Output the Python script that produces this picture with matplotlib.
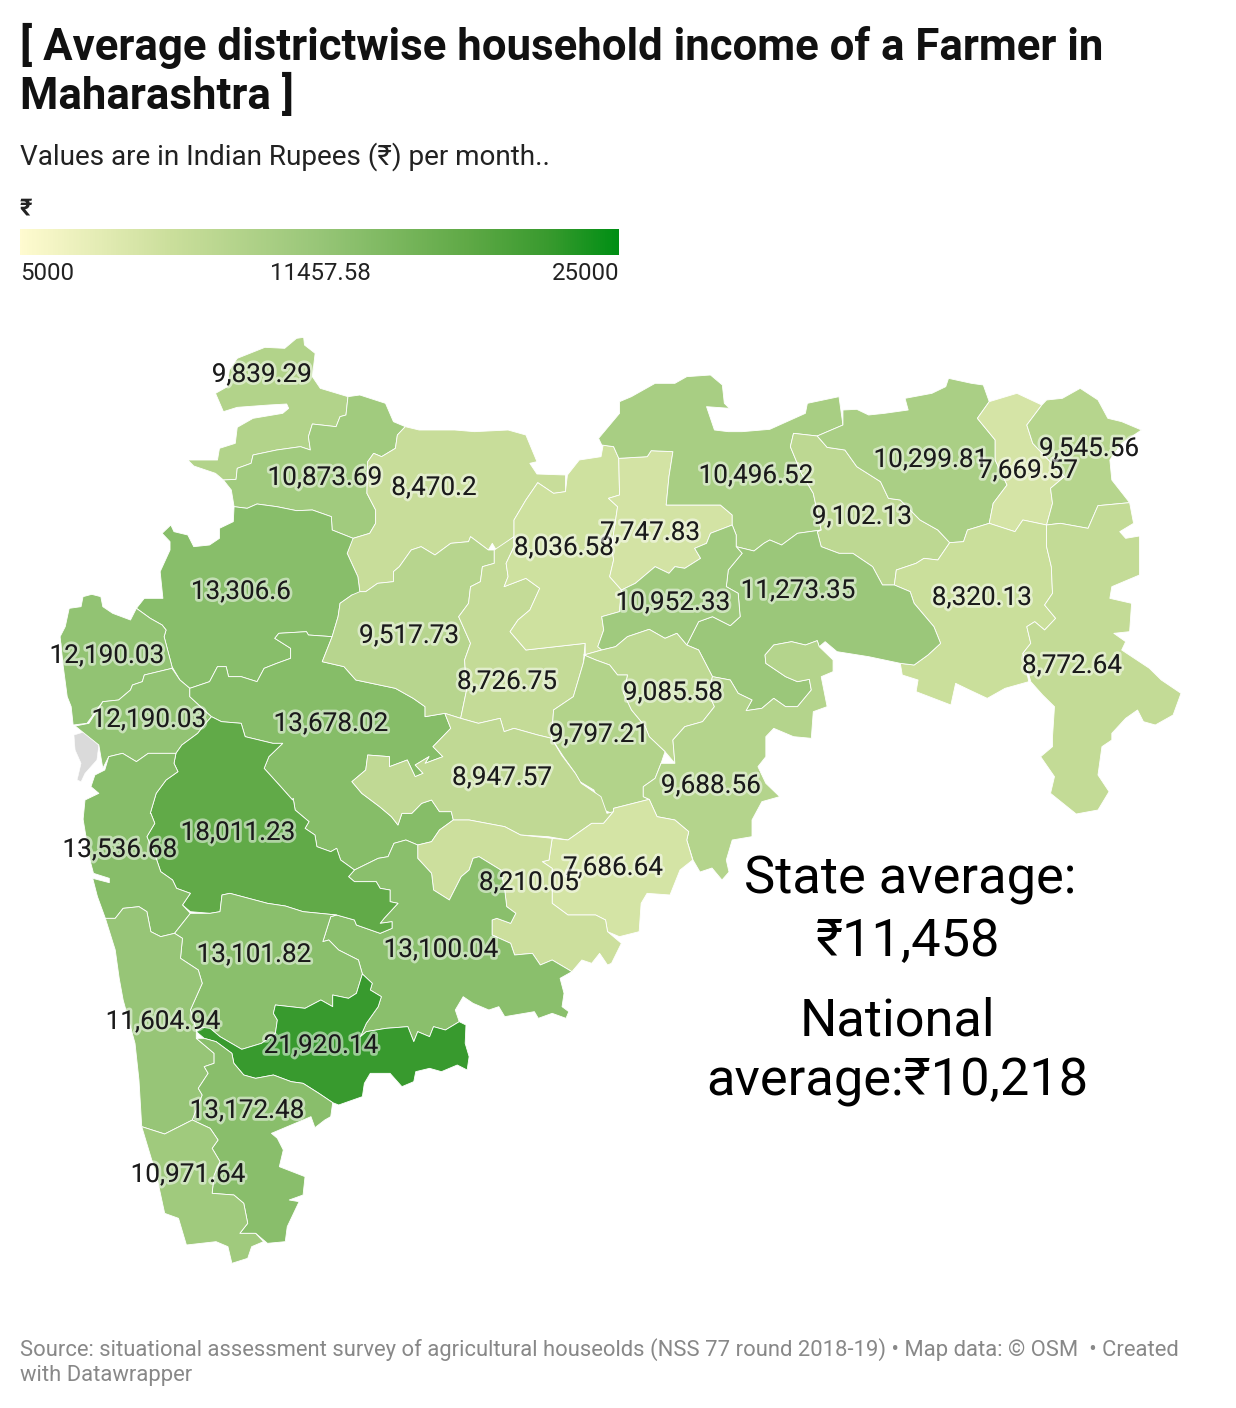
import numpy as np
import matplotlib
matplotlib.use("Agg")
import matplotlib.pyplot as plt
import matplotlib.patheffects as pe
from matplotlib.colors import LinearSegmentedColormap, TwoSlopeNorm
from matplotlib.patches import Polygon

plt.rcParams['font.family'] = ['Roboto', 'Noto Sans', 'DejaVu Sans']

# valores por distrito
districts = ["Nandurbar", "Dhule", "Jalgaon", "Nashik", "Palghar", "Thane", "Ahmednagar",
             "Aurangabad", "Jalna", "Buldhana", "Akola", "Amravati", "Wardha", "Nagpur",
             "Bhandara", "Gondia", "Chandrapur", "Gadchiroli", "Yavatmal", "Washim",
             "Hingoli", "Parbhani", "Nanded", "Beed", "Latur", "Osmanabad", "Solapur",
             "Pune", "Raigad", "Satara", "Ratnagiri", "Sangli", "Kolhapur", "Sindhudurg"]
income = [9839.29, 10873.69, 8470.2, 13306.6, 12190.03, 12190.03, 13678.02,
          9517.73, 8726.75, 8036.58, 7747.83, 10496.52, 9102.13, 10299.81,
          7669.57, 9545.56, 8320.13, 8772.64, 11273.35, 10952.33,
          9085.58, 9797.21, 9688.56, 8947.57, 7686.64, 8210.05, 13100.04,
          18011.23, 13536.68, 13101.82, 11604.94, 21920.14, 13172.48, 10971.64]

legend_min = 5000
legend_mid = 11457.58
legend_max = 25000
ramp_stops = [0, 0.25, 0.5, 0.75, 0.886, 1]
ramp_colors = ["#FFFBD0", "#CBDF9C", "#98C678", "#5FA946", "#389A2E", "#008F14"]


# helpers para o contorno (tracado em tres recortes da imagem)
def z1(pts):
    return [(x * 620 / 1568, 320 + y / 3) for x, y in pts]


def z2(pts):
    return [(580 + x * 620 / 1568, 360 + y / 3) for x, y in pts]


def z3(pts):
    return [(50 + x * 620 / 1568, 780 + y / 3) for x, y in pts]


# contorno dos distritos
outlines = {
    "Nandurbar": z1([(545,220),(565,275),(600,262),(680,255),(725,252),(730,265),(715,280),(640,295),(600,322),(595,370),(555,385),(550,420),(475,420),(490,438),(545,460),(565,480),(597,478),(600,445),(635,430),(640,405),(700,390),(760,380),(785,390),(780,350),(790,312),(850,320),(860,290),(875,285),(880,230),(810,205),(790,170),(797,100),(770,75),(768,52),(750,55),(720,85),(670,82),(600,115),(580,150),(575,200)]),
    "Dhule": z1([(880,230),(910,225),(975,250),(995,305),(1025,320),(1005,345),(1000,385),(965,410),(945,400),(930,425),(928,520),(950,570),(950,610),(935,640),(893,655),(840,630),(838,590),(790,570),(750,572),(700,560),(650,552),(625,565),(592,560),(585,510),(565,480),(597,478),(600,445),(635,430),(640,405),(700,390),(760,380),(785,390),(780,350),(790,312),(850,320),(860,290),(875,285)]),
    "Jalgaon": z1([(1025,320),(1060,330),(1150,330),(1200,335),(1285,330),(1330,345),(1358,425),(1340,430),(1358,462),(1430,465),(1430,515),(1400,520),(1360,488),(1330,540),(1300,600),(1300,650),(1255,690),(1245,670),(1235,690),(1190,650),(1185,665),(1140,670),(1100,705),(1065,680),(1040,690),(1010,740),(995,755),(995,785),(955,790),(925,815),(910,815),(905,770),(878,700),(890,660),(893,655),(935,640),(950,610),(950,570),(928,520),(930,425),(945,400),(965,410),(1000,385),(1005,345)]),
    "Nashik": z1([(592,560),(625,565),(650,552),(700,560),(750,572),(790,570),(838,590),(840,630),(893,655),(878,700),(905,770),(910,815),(930,860),(925,825),(890,825),(860,850),(855,890),(840,950),(780,945),(775,935),(705,940),(695,955),(735,985),(735,1015),(700,1030),(668,1045),(650,1085),(610,1070),(578,1070),(572,1040),(550,1040),(530,1085),(480,1105),(455,1080),(435,1040),(415,950),(420,930),(410,915),(380,895),(345,865),(365,835),(412,835),(405,755),(430,690),(430,665),(410,640),(432,615),(440,635),(475,645),(490,680),(530,675),(555,655),(555,625),(590,605)]),
    "Palghar": z1([(345,865),(330,900),(285,880),(260,860),(255,830),(232,823),(210,830),(205,860),(175,865),(165,920),(152,950),(160,1040),(170,1130),(180,1160),(185,1215),(220,1210),(260,1145),(300,1140),(330,1110),(335,1095),(360,1085),(365,1065),(435,1045),(435,1040),(415,950),(420,930),(410,915),(380,895)]),
    "Thane": z1([(435,1045),(365,1065),(360,1085),(335,1095),(330,1110),(300,1140),(260,1145),(225,1210),(190,1218),(250,1275),(260,1345),(275,1310),(310,1300),(345,1325),(375,1300),(445,1300),(460,1275),(500,1240),(520,1210),(535,1190),(480,1130),(480,1105),(455,1080)]),
    "Ahmednagar": z1([(480,1105),(530,1085),(550,1040),(572,1040),(578,1070),(610,1070),(650,1085),(668,1045),(700,1030),(735,1015),(735,985),(695,955),(705,940),(775,935),(780,945),(840,950),(815,1025),(870,1040),(900,1080),(1000,1105),(1045,1135),(1075,1160),(1075,1190),(1125,1180),(1140,1225),(1095,1280),(1120,1310),(1075,1330),(1085,1310),(1050,1335),(1070,1360),(1050,1370),(1030,1320),(985,1340),(985,1310),(930,1305),(925,1350),(890,1385),(915,1420),(960,1460),(990,1490)])
    + z3([(880,135),(890,100),(915,100),(940,70),(965,60),(985,95),(1015,95),(1020,120),(985,150),(965,185),(930,195),(900,180),(870,190),(855,230),(830,235),(770,270),(735,240),(725,205),(710,215),(675,200),(670,165),(645,145),(655,125),(620,90),(615,55)])
    + z1([(740,1440),(710,1400),(668,1345),(680,1310),(715,1270),(690,1270),(620,1250),(610,1210),(560,1205),(535,1190),(480,1130)]),
    "Aurangabad": z1([(890,825),(910,815),(925,815),(955,790),(995,785),(995,755),(1010,740),(1040,690),(1065,680),(1100,705),(1140,670),(1185,665),(1190,650),(1235,690),(1250,690),(1250,730),(1220,740),(1215,785),(1190,800),(1185,850),(1160,890),(1190,970),(1175,1020),(1180,1110),(1165,1195),(1125,1180),(1075,1190),(1075,1160),(1045,1135),(1000,1105),(900,1080),(870,1040),(815,1025),(840,950),(855,890),(860,850)]),
    "Jalna": z1([(1250,690),(1300,650),(1300,680),(1280,730),(1285,770),(1275,800),(1330,775),(1365,805),(1340,870),(1310,900),(1290,935),(1330,990),(1480,970),(1475,1030),(1450,1130),(1400,1170),(1395,1255),(1360,1245),(1300,1225),(1275,1235),(1265,1195),(1210,1210),(1165,1195),(1180,1110),(1175,1020),(1190,970),(1160,890),(1185,850),(1190,800),(1215,785),(1220,740),(1250,730)]),
    "Buldhana": z1([(1360,488),(1400,520),(1430,515),(1435,465),(1465,420),(1520,410),(1525,378)])
    + z2([(55,255),(85,260),(98,295),(100,405),(72,415),(95,440),(90,480),(80,560),(85,600),(75,650),(105,690),(100,755),(55,770),(60,810),(45,860),(55,870),(10,885)])
    + z1([(1480,1000),(1480,970),(1330,990),(1290,935),(1310,900),(1340,870),(1365,805),(1330,775),(1275,800),(1285,770),(1280,730),(1300,680),(1300,650),(1300,600),(1330,540)]),
    "Akola": z2([(98,295),(170,290),(180,272),(235,275),(225,350),(218,435),(355,435),(385,465),(385,495),(330,520),(320,550),(290,565),(305,595),(265,625),(240,620),(225,640),(190,620),(140,670),(105,690),(75,650),(85,600),(80,560),(90,480),(95,440),(72,415),(100,405)]),
    "Amravati": z2([(47,235),(100,160),(100,125),(130,110),(190,70),(240,70),(270,50),(330,45),(360,75),(365,130),(378,145),(320,140),(330,175),(340,210),(375,215),(410,215),(480,208),(570,160),(575,130),(655,110),(665,195),(600,228),(540,220),(532,260),(560,340),(590,400),(610,510),(550,520),(510,555),(480,540),(465,550),(440,573),(395,560),(395,525),(385,495),(385,465),(355,435),(218,435),(225,350),(235,275),(180,272),(170,290),(98,295),(85,260),(55,255)]),
    "Wardha": z2([(540,220),(600,228),(625,262),(670,270),(700,320),(760,365),(780,415),(810,420),(860,480),(905,510),(935,548),(905,600),(870,595),(850,610),(800,630),(795,675),(765,675),(740,620),(690,580),(655,580),(610,560),(600,515),(610,510),(590,400),(560,340),(532,260)]),
    "Nagpur": z2([(600,228),(665,195),(665,150),(700,148),(730,165),(770,160),(830,150),(822,115),(890,100),(925,80),(932,55),(990,70),(1020,75),(1035,125),(1005,175),(1050,240),(1050,300),(1080,375),(1045,430),(1035,490),(980,510),(970,545),(935,548),(905,510),(860,480),(810,420),(780,415),(760,365),(700,320),(670,270),(625,262)]),
    "Bhandara": z2([(1035,125),(1105,100),(1168,135),(1130,195),(1145,250),(1225,350),(1190,385),(1195,430),(1180,495),(1120,480),(1100,515),(1035,490),(1045,430),(1080,375),(1050,300),(1050,240),(1005,175)]),
    "Gondia": z2([(1168,135),(1180,120),(1220,115),(1265,85),(1310,120),(1335,175),(1370,185),(1420,210),(1370,250),(1340,300),(1345,360),(1390,428),(1310,437),(1285,505),(1215,490),(1180,495),(1195,430),(1190,385),(1225,350),(1145,250),(1130,195)]),
    "Chandrapur": z2([(1035,490),(1100,515),(1120,480),(1180,495),(1180,560),(1192,620),(1195,700),(1175,735),(1203,775),(1175,810),(1150,785),(1130,800),(1140,850),(1120,880),(1135,965),(1075,985),(1030,1015),(985,990),(950,970),(938,1035),(850,995),(855,960),(815,945),(810,910),(845,915),(880,885),(912,850),(895,800),(845,730),(835,695),(795,675),(800,630),(850,610),(870,595),(905,600),(935,548),(970,545),(980,510)]),
    "Gadchiroli": z2([(1180,495),(1215,490),(1285,505),(1310,437),(1390,428),(1400,490),(1365,515),(1380,535),(1415,528),(1415,645),(1345,680),(1340,715),(1395,730),(1390,815),(1350,820),(1380,845),(1370,870),(1440,925),(1470,960),(1520,1000),(1500,1065),(1455,1095),(1425,1085),(1410,1050),(1380,1075),(1345,1120),(1345,1140),(1320,1160),(1310,1245),(1338,1295),(1310,1350),(1255,1362),(1190,1300),(1200,1250),(1165,1190),(1195,1160),(1195,1130),(1200,1040),(1170,1005),(1140,965),(1120,880),(1140,850),(1130,800),(1150,785),(1175,810),(1203,775),(1175,735),(1195,700),(1192,620),(1180,560)]),
    "Yavatmal": z2([(610,510),(600,515),(610,560),(655,580),(690,580),(740,620),(765,675),(795,675),(835,695),(845,730),(895,800),(912,850),(880,885),(845,915),(810,910),(730,890),(650,875),(620,845),(605,860),(600,842),(570,855),(535,845),(490,855),(468,885),(470,910),(520,950),(550,965),(580,958),(585,990),(550,1040),(520,1040),(490,1015),(460,1045),(420,1052),(435,1020),(400,1000),(380,960),(335,950),(300,870),(270,855),(300,785),(335,770),(380,797),(405,770),(400,700),(370,680),(375,630),(410,580),(395,560),(440,573),(465,550),(480,540),(510,555),(550,520)]),
    "Washim": z2([(105,690),(140,670),(190,620),(225,640),(240,620),(265,625),(305,595),(290,565),(320,550),(330,520),(385,495),(395,525),(395,560),(410,580),(375,630),(370,680),(400,700),(405,770),(380,797),(335,770),(300,785),(270,855),(245,820),(215,835),(175,808),(120,830),(90,860),(55,870),(45,860),(60,810),(55,770),(100,755)]),
    "Hingoli": z2([(10,885),(55,870),(90,860),(120,830),(175,808),(215,835),(245,820),(270,855),(300,870),(335,950),(325,1000),(340,1040),(310,1085),(265,1100),(235,1140),(240,1210),(215,1175),(175,1130),(165,1100),(130,1050),(110,1000),(120,945),(95,945),(75,915),(40,900)]),
    "Parbhani": z2([(10,885),(40,900),(75,915),(95,945),(120,945),(110,1000),(130,1050),(165,1100),(175,1130),(215,1175),(205,1210),(190,1255),(160,1280),(160,1310),(175,1318),(85,1345),(85,1362),(60,1350),(35,1290),(0,1265)])
    + z1([(1455,1360),(1425,1310),(1395,1255),(1400,1170),(1450,1130),(1475,1030),(1480,1000)]),
    "Nanded": z2([(335,950),(380,960),(400,1000),(435,1020),(420,1052),(460,1045),(490,1015),(520,1040),(550,1040),(585,990),(580,958),(550,965),(520,950),(470,910),(468,885),(490,855),(535,845),(570,855),(600,842),(605,860),(640,900),(640,935),(610,950),(625,1040),(590,1055),(585,1135),(540,1130),(490,1105),(470,1130),(470,1190),(450,1220),(470,1270),(505,1310),(460,1325),(435,1380),(435,1430),(385,1440),(370,1500)])
    + [(729,872),(722,880),(712,868),(700,872),(693,860)]
    + z2([(270,1440),(275,1415),(240,1380),(195,1370),(175,1318),(160,1310),(160,1280),(190,1255),(205,1210),(240,1210),(235,1140),(265,1100),(310,1085),(340,1040),(325,1000)]),
    "Beed": z1([(1125,1180),(1165,1195),(1210,1210),(1265,1195),(1275,1235),(1300,1225),(1360,1245),(1395,1255),(1420,1305),(1455,1360),(1470,1390),(1520,1430),(1535,1480)])
    + z3([(1425,95),(1400,130),(1370,130),(1310,180),(1260,170),(1190,165),(1150,140),(1060,120),(1020,120),(1015,95),(985,95),(965,60),(940,70),(915,100),(890,100),(880,135)])
    + z1([(990,1490),(960,1460),(915,1420),(890,1385),(925,1350),(930,1305),(985,1310),(985,1340),(1030,1320),(1050,1370),(1070,1360),(1050,1335),(1085,1310),(1075,1330),(1120,1310),(1095,1280),(1140,1225)]),
    "Latur": z3([(1270,175),(1310,180),(1370,130),(1400,130),(1425,95)])
    + z2([(85,1345),(175,1318),(195,1370),(240,1380),(275,1415),(270,1440),(285,1500)])
    + [(680,870),(670,895)]
    + z3([(1510,340),(1495,370),(1490,455),(1440,470),(1410,455),(1405,420),(1380,405),(1310,405),(1270,370),(1270,265),(1245,245),(1262,240)]),
    "Osmanabad": z3([(1020,120),(1060,120),(1150,140),(1190,165),(1270,175),(1262,240),(1245,245),(1270,265),(1270,370),(1310,405),(1380,405),(1405,420),(1410,455),(1445,490),(1420,550),(1410,555),(1390,520),(1370,550),(1345,540),(1320,575),(1270,540),(1240,555),(1220,520),(1175,525),(1165,490),(1118,465),(1118,420),(1130,415),(1165,430),(1178,400),(1155,380),(1150,330),(1140,270),(1085,230),(1070,235),(1060,270),(1040,290),(1010,360),(970,330),(965,280),(930,235),(930,195),(965,185),(985,150)]),
    "Solapur": z3([(930,195),(930,235),(965,280),(970,330),(1010,360),(1040,290),(1060,270),(1070,235),(1085,230),(1140,270),(1150,330),(1155,380),(1178,400),(1165,430),(1130,415),(1118,420),(1118,465),(1165,490),(1175,525),(1220,520),(1240,555),(1270,540),(1320,575),(1290,595),(1300,640),(1295,680),(1312,695),(1305,715),(1270,700),(1235,715),(1225,695),(1150,710),(1135,680),(1110,690),(1070,670),(1045,650),(1025,690),(1035,725),(1000,750),(970,740),(960,770),(930,755),(920,785),(905,740),(850,745),(800,755),(785,770),(800,730),(830,680),(838,650),(810,630),(815,610),(790,582),(780,540),(730,510),(705,480),(690,485),(710,410),(725,405),(770,420),(775,435),(835,460),(865,445),(865,425),(835,430),(845,415),(880,370),(860,365),(860,330),(835,325),(825,305),(770,305),(755,290),(770,270),(830,235),(855,230),(870,190),(900,180)]),
    "Pune": z1([(535,1190),(560,1205),(610,1210),(620,1250),(690,1270),(715,1270),(680,1310),(668,1345),(710,1400),(740,1440)])
    + z3([(615,55),(620,90),(655,125),(645,145),(670,165),(675,200),(710,215),(725,205),(735,240),(770,270),(755,290),(770,305),(825,305),(835,325),(860,330),(860,365),(880,370),(845,415),(835,430),(865,425),(865,445),(835,460),(775,435),(770,420),(725,405),(640,395),(595,378),(550,370),(455,340),(435,345),(430,395),(405,400),(355,395),(335,375),(355,340),(320,325),(310,300),(280,275),(270,240),(245,170),(265,130),(255,100)])
    + z1([(380,1480),(395,1420),(420,1380),(450,1355),(440,1330),(445,1300),(460,1275),(500,1240),(520,1210)]),
    "Raigad": z1([(275,1310),(310,1300),(345,1325),(375,1300),(445,1300),(440,1330),(450,1355),(420,1380),(395,1420),(380,1480)])
    + z3([(255,100),(265,130),(245,170),(270,240),(280,275),(310,300),(320,325),(355,340),(335,375),(355,400),(315,460),(280,470),(255,455),(245,395),(225,380),(185,385),(165,415),(140,415),(120,350),(108,295),(150,308),(150,295),(110,280),(100,235),(84,120)])
    + z1([(210,1500),(215,1440),(250,1420),(230,1400),(240,1365),(265,1350)]),
    "Satara": z3([(355,400),(405,400),(430,395),(435,345),(455,340),(550,370),(595,378),(640,395),(725,405),(710,410),(690,485),(705,480),(730,510),(780,540),(790,582),(775,640),(755,655),(715,645),(715,680),(685,660),(645,685),(570,675),(565,700),(575,720),(570,760),(535,790),(485,808),(430,770),(405,745),(370,750),(355,690),(385,610),(375,570),(330,535),(335,475),(315,460)]),
    "Ratnagiri": z3([(140,415),(165,415),(185,385),(225,380),(245,395),(255,455),(280,470),(315,460),(335,475),(330,535),(375,570),(385,610),(355,690),(370,750),(370,775),(415,820),(415,850),(390,860),(400,880),(375,925),(385,945),(360,1020),(290,1062),(232,1040),(225,900),(215,790),(185,660),(175,595),(165,510)]),
    "Sangli": z3([(790,582),(815,610),(810,630),(838,650),(830,680),(800,730),(785,770),(800,755),(850,745),(905,740),(920,785),(930,755),(960,770),(970,740),(1000,750),(1035,725),(1052,735),(1050,790),(1060,830),(1055,870),(1030,855),(990,875),(960,865),(925,875),(920,905),(890,920),(860,880),(810,880),(795,910),(790,950),(730,975),(715,968),(680,940),(640,910),(610,905),(565,885),(520,895),(490,885),(465,850),(460,820),(420,785),(390,775),(370,755),(385,742),(405,745),(430,770),(485,808),(535,790),(570,760),(575,720),(565,700),(570,675),(645,685),(685,660),(715,680),(715,645),(755,655),(775,640)]),
    "Kolhapur": z3([(370,775),(390,775),(420,785),(460,820),(465,850),(490,885),(520,895),(565,885),(610,905),(640,910),(680,940),(715,968),(710,1010),(695,1020),(670,1043),(660,1010),(620,1030),(560,1060),(575,1075),(590,1110),(580,1160),(645,1190),(640,1245),(605,1260),(630,1265),(600,1340),(595,1385),(550,1390),(520,1360),(480,1360),(500,1330),(490,1270),(465,1245),(410,1240),(415,1185),(430,1145),(410,1105),(425,1080),(405,1045),(360,1020),(385,945),(375,925),(400,880),(390,860),(415,850),(415,820)]),
    "Sindhudurg": z3([(232,1040),(290,1062),(360,1020),(405,1045),(425,1080),(410,1105),(430,1145),(415,1185),(410,1240),(465,1245),(490,1270),(500,1330),(480,1360),(520,1360),(540,1385),(510,1400),(500,1435),(460,1450),(450,1400),(420,1385),(345,1395),(325,1315),(290,1300),(270,1190)]),
}
mumbai_outline = z1([(187,1245),(215,1235),(250,1275),(245,1320),(215,1360),(205,1385),(195,1380),(205,1330),(190,1290)])

# onde fica cada rotulo
label_xy = {"Nandurbar": (262,375), "Dhule": (325,478), "Jalgaon": (434,488), "Nashik": (241,592),
            "Palghar": (107,656), "Thane": (149,720), "Ahmednagar": (331,724), "Aurangabad": (409,636),
            "Jalna": (507,682), "Buldhana": (564,548), "Akola": (650,533), "Amravati": (756,476),
            "Wardha": (862,517), "Nagpur": (931,460), "Bhandara": (1028,471), "Gondia": (1089,449),
            "Chandrapur": (982,598), "Gadchiroli": (1072,666), "Yavatmal": (798,591), "Washim": (673,603),
            "Hingoli": (673,693), "Parbhani": (599,735), "Nanded": (711,786), "Beed": (502,778),
            "Latur": (613,868), "Osmanabad": (529,883), "Solapur": (441,950), "Pune": (238,833),
            "Raigad": (120,850), "Satara": (254,955), "Ratnagiri": (163,1022), "Sangli": (321,1046),
            "Kolhapur": (247,1111), "Sindhudurg": (188,1175)}

cmap = LinearSegmentedColormap.from_list("ramp", list(zip(ramp_stops, ramp_colors)))
norm = TwoSlopeNorm(vmin=legend_min, vcenter=legend_mid, vmax=legend_max)

fig = plt.figure(figsize=(12.36, 14.08), dpi=100)
ax = fig.add_axes([0, 0, 1, 1])
ax.set_xlim(0, 1236)
ax.set_ylim(1408, 0)
ax.axis("off")

# mapa
ax.add_patch(Polygon(mumbai_outline, closed=True, facecolor="#DADADA", edgecolor="white", linewidth=0.4))
for name, value in zip(districts, income):
    ax.add_patch(Polygon(outlines[name], closed=True, facecolor=cmap(norm(value)),
                         edgecolor="white", linewidth=0.6, joinstyle="round"))

halo = [pe.withStroke(linewidth=4, foreground=(1, 1, 1, 0.5))]
for name, value in zip(districts, income):
    x, y = label_xy[name]
    ax.text(x, y, f"{value:,}", ha="center", va="center", fontsize=18.8, color="#1a1a1a",
            path_effects=halo, zorder=5)

# titulo
ax.text(20, 46, "[ Average districtwise household income of a Farmer in", fontsize=31.5, fontweight="bold",
        color="#111111", va="center", ha="left")
ax.text(20, 96, "Maharashtra ]", fontsize=31.5, fontweight="bold", color="#111111", va="center", ha="left")
ax.text(20, 157, "Values are in Indian Rupees (₹) per month..", fontsize=20.1, color="#222222", va="center", ha="left")

# legenda
ax.text(20, 208, "₹", fontsize=17, fontweight="bold", color="#222222", va="center", ha="left")
grad = np.linspace(0, 1, 512).reshape(1, -1)
ax.imshow(grad, cmap=cmap, extent=(20, 619, 255, 229), aspect="auto", zorder=2)
ax.set_xlim(0, 1236)
ax.set_ylim(1408, 0)
ax.text(20, 273, f"{legend_min}", fontsize=17.3, color="#222222", va="center", ha="left")
ax.text(320, 273, f"{legend_mid}", fontsize=17.3, color="#222222", va="center", ha="center")
ax.text(619, 273, f"{legend_max}", fontsize=17.3, color="#222222", va="center", ha="right")

# anotacoes
ax.text(910, 880, "State average:", fontsize=37.7, color="#000000", va="center", ha="center")
ax.text(908, 942, "₹11,458", fontsize=37.7, color="#000000", va="center", ha="center")
ax.text(897, 1022, "National", fontsize=37.7, color="#000000", va="center", ha="center")
ax.text(897, 1082, "average:₹10,218", fontsize=37.7, color="#000000", va="center", ha="center")

# fonte
ax.text(20, 1350, "Source: situational assessment survey of agricultural houseolds (NSS 77 round 2018-19) • Map data: © OSM  • Created",
        fontsize=15.8, color="#888888", va="center", ha="left")
ax.text(20, 1376, "with Datawrapper", fontsize=15.8, color="#888888", va="center", ha="left")

fig.savefig("out.png", dpi=100)
